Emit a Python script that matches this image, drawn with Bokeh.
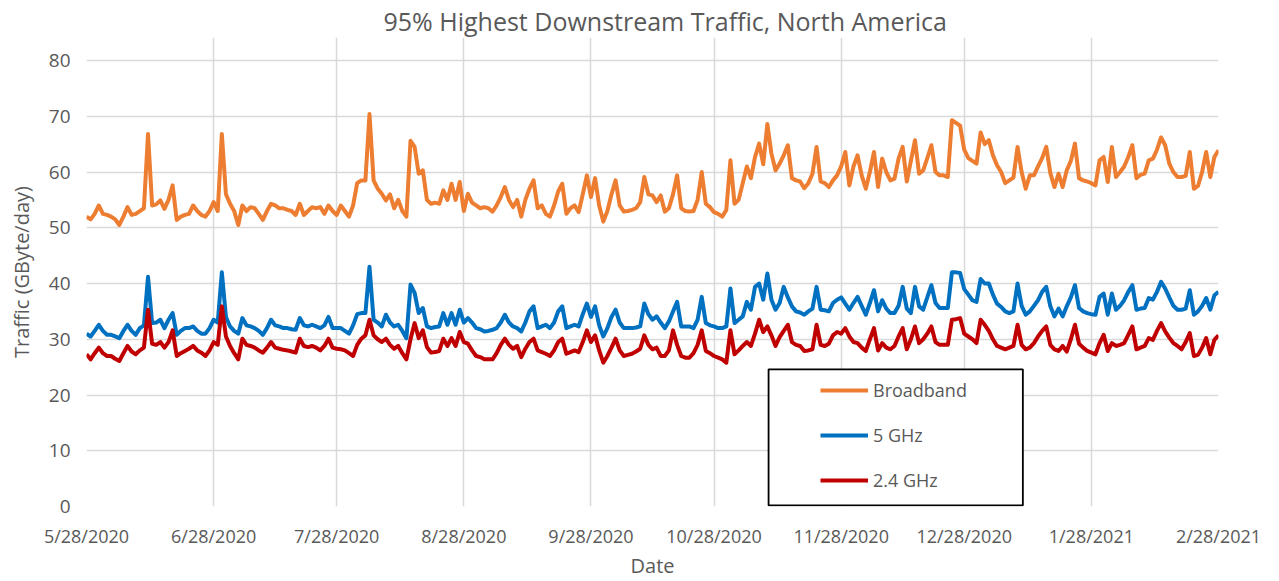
import pandas as pd
from bokeh.plotting import figure
from bokeh.models import Range1d, FixedTicker, Legend, LegendItem, BoxAnnotation
from bokeh.embed import file_html
from bokeh.resources import INLINE

# ---------------- data (GByte/day, daily from 5/28/2020) ----------------
title_text = "95% Highest Downstream Traffic, North America"
start_date = "5/28/2020"
tick_labels = ["5/28/2020", "6/28/2020", "7/28/2020", "8/28/2020", "9/28/2020",
               "10/28/2020", "11/28/2020", "12/28/2020", "1/28/2021", "2/28/2021"]
y_ticks = [0, 10, 20, 30, 40, 50, 60, 70, 80]

broadband = [
    52, 51.5, 52.5, 54, 52.5, 52.3, 52, 51.5, 50.5, 52,
    53.7, 52.3, 52.5, 53, 53.5, 66.8, 54, 54.2, 54.9, 53.4,
    55, 57.6, 51.4, 52, 52.3, 52.5, 54, 53, 52.3, 52,
    53, 54.6, 53, 66.8, 56, 54.3, 53, 50.5, 54, 53,
    53.7, 53.5, 52.5, 51.4, 53, 54.3,
    54, 53.5, 53.5, 53.2, 53, 52.3, 54.3, 52.3, 53, 53.7,
    53.5, 53.7, 52.5, 54, 53, 52.3, 54, 53, 52, 54,
    58, 58.5, 58.5, 70.4, 58.5, 57, 56.1, 54.9, 56, 53.5,
    55, 53, 52, 65.6, 64.5, 59.7, 60.3, 55, 54.3, 54.5,
    54.3, 56.7, 55, 57.9, 55, 58.2, 53,
    56.1, 54.5, 54, 53.5, 53.7, 53.5, 52.9, 54, 55.5, 57.3,
    55, 53.7, 55, 52, 55, 57, 58.5, 53.5, 54, 52.5,
    52, 54, 56.5, 57.9, 52.5, 53.5, 54, 52.8, 56, 59.4,
    55.5, 58.9, 54, 51.1, 53, 56, 58.5, 54, 52.9, 53,
    53.2, 53.5, 54.6, 59.1, 56,
    55.8, 54.6, 55.8, 52.9, 53.5, 56, 59.4, 53.5, 53, 52.9,
    53, 55, 60, 54.3, 53.7, 52.8, 52.5, 52, 53.2, 62.1,
    54.3, 55, 58, 61, 58.9, 62.7, 65.1, 61.4, 68.6, 63.3,
    60.3, 61.5, 63, 64.8, 58.9, 58.5, 58.3, 57.1, 58, 59.7,
    64.5, 58.3, 58, 57.3, 58.5, 59.4,
    61, 63.6, 57.6, 61, 63, 59.4, 57, 60, 63.6, 57.3,
    62.4, 60, 58.5, 58.8, 62.4, 64.5, 58.3, 62, 65.7, 59.7,
    60.3, 62.5, 64.8, 60, 59.4, 59.4, 59.1, 69.3, 68.8, 68.3,
    64, 62.5, 62, 61.5, 67.1, 65, 65.7, 63, 61.2, 60,
    58, 58.5, 59, 64.5, 60, 57, 59.4,
    59.4, 61, 62.5, 64.5, 59.8, 57.3, 59.7, 57.3, 60.3, 62,
    65.1, 58.9, 58.5, 58.3, 58, 57.6, 62.1, 62.7, 58.2, 64.5,
    59.1, 60, 61, 62.7, 64.8, 58.9, 59.5, 59.7, 62.1, 62.4,
    64, 66.2, 64.8, 61.5, 60, 59.1, 59.1, 59.3, 63.6, 57,
    57.5, 60, 63.6, 59.1, 62.7, 63.9,
]

ghz5 = [
    31, 30.5, 31.5, 32.6, 31.5, 30.8, 30.8, 30.5, 30.2, 31.5,
    32.6, 31.5, 30.8, 32, 32.5, 41.2, 32.9, 33, 33.5, 32,
    33.5, 34.7, 30.8, 31.5, 32, 32, 32.3, 31.5, 31, 31,
    32, 33.5, 33, 42, 34, 32.3, 31.5, 31, 33.8, 32.5,
    32.3, 32, 31.5, 30.8, 32, 33.5,
    32.5, 32.3, 32, 32, 31.8, 31.7, 33.8, 32.5, 32.3, 32.6,
    32.3, 32, 32.5, 34, 32, 32, 32, 31.5, 31, 32.5,
    34.5, 34.7, 34.7, 43, 33.5, 33, 32.3, 34.4, 33, 32.3,
    32.6, 31.5, 30.2, 39.8, 38.3, 34.7, 35.6, 32.3, 32, 32.2,
    32.3, 34.7, 32.6, 34.7, 32.6, 35.3, 33,
    33.8, 33, 32, 31.8, 31.4, 31.5, 31.7, 32, 33, 34.4,
    33, 32.3, 32, 31.4, 33, 35, 35.9, 32, 32.3, 32.6,
    32, 33, 35, 35.9, 32, 32.3, 32.6, 32.3, 34.5, 36.4,
    34, 35.9, 32.5, 30.5, 32, 34, 35.3, 33, 32, 32,
    32, 32.1, 32.3, 36.4, 34.5,
    33.5, 34.1, 33, 32, 33.2, 35, 36.7, 32.3, 32.3, 32.3,
    32, 33.5, 37.6, 32.9, 32.5, 32.3, 32, 32, 32.3, 39.1,
    32.9, 33.5, 34.1, 36.7, 35.3, 39.4, 40, 37.1, 41.8, 37.1,
    35.3, 36.5, 39.4, 37.5, 35.9, 35, 34.8, 34.4, 35, 35.5,
    39.4, 35.3, 35.2, 35, 36.5, 37.1,
    37.5, 36.4, 35.3, 36.5, 37.6, 36, 34.4, 36.5, 38.8, 35,
    37, 35.5, 34.7, 34.7, 36, 39.4, 35.5, 34.7, 39.4, 35.9,
    35.3, 37.5, 39.7, 36.5, 35.6, 35.6, 35.6, 42, 42, 41.9,
    39, 38, 37, 36.7, 40.8, 40, 40, 38, 36.4, 35.8,
    35, 34.7, 35, 40, 36, 34.4, 35,
    36, 37, 38.5, 39.4, 35.9, 34.1, 35.5, 34.1, 35.9, 37.5,
    39.7, 35.6, 35, 34.7, 34.5, 34.4, 37.6, 38.2, 34.4, 38.2,
    35.3, 36, 37, 38.5, 39.7, 35.3, 35.5, 35.6, 37.4, 37.1,
    38.5, 40.3, 39.1, 37.5, 36, 35.3, 35.3, 35.5, 38.8, 34.4,
    35, 36, 37.4, 35.3, 37.9, 38.5,
]

ghz24 = [
    27.3, 26.4, 27.5, 28.5, 27.5, 27, 27, 26.5, 26.1, 27.5,
    28.8, 27.8, 27.3, 28, 28.5, 35.3, 29.2, 29, 29.5, 28.5,
    29.5, 31.6, 27, 27.5, 27.9, 28.3, 28.8, 28, 27.6, 27,
    28, 29.5, 29, 35.9, 30.5, 28.8, 27.5, 26.4, 30.1, 29,
    28.8, 28.5, 28, 27.6, 28.5, 29.5,
    28.5, 28.3, 28.1, 28, 27.8, 27.6, 30.1, 28.8, 28.6, 28.8,
    28.5, 28, 28.8, 30.1, 28.5, 28.3, 28.2, 28, 27.5, 27,
    29, 30.1, 30.7, 33.5, 30.7, 30, 29.5, 30.1, 29, 28.3,
    28.8, 27.5, 26.4, 30, 32.9, 30.2, 31.6, 28.6, 27.6, 27.7,
    27.9, 30.1, 28.8, 30.2, 28.8, 31.3, 29.5,
    29.2, 28, 27, 26.8, 26.4, 26.4, 26.4, 27.5, 29, 30.1,
    29, 28.3, 28.8, 26.8, 28.3, 29.5, 30.1, 28, 27.7, 27.4,
    27, 28, 29.5, 30.1, 27.4, 27.7, 28, 27.7, 29.5, 31.6,
    29.5, 30.7, 28, 25.8, 27, 28.5, 30.1, 28, 27, 27.2,
    27.4, 27.8, 28.3, 30.7, 29,
    28.2, 28.5, 27, 27, 28, 31.6, 29, 27, 26.7, 26.7,
    27.5, 29, 31.6, 27.9, 27.5, 27, 26.7, 26.4, 25.8, 31.6,
    27.3, 28, 28.8, 29.5, 28.8, 31, 33.5, 31.3, 32.3, 30.7,
    28.8, 30.4, 31.5, 32.6, 29.5, 29, 28.8, 27.9, 28, 28.2,
    32.6, 29, 28.8, 29.2, 30.7, 31.3,
    31, 32, 30.5, 29.5, 29.3, 28.5, 27.9, 30, 32, 28,
    29.3, 28.5, 28.2, 28.8, 30.5, 32, 28.2, 30, 32.3, 29.3,
    30, 31, 32.3, 29.5, 29, 29, 29, 33.5, 33.6, 33.8,
    31, 30.5, 30, 29.3, 33.5, 32.6, 31.5, 30, 28.8, 28.5,
    28.2, 28.5, 28.8, 32.6, 29, 28.2, 28.5,
    29.3, 30.5, 31.5, 32.3, 29, 28.2, 27.9, 28.8, 27.8, 30,
    32.6, 29.2, 28.5, 27.9, 27.6, 27.3, 29.3, 30.8, 27.9, 29.3,
    28.8, 29, 29.3, 30.8, 32.3, 28.2, 28.5, 28.8, 30.2, 29.9,
    31.5, 32.9, 31.4, 30.3, 29.3, 28.8, 28.2, 29.5, 31.1, 27,
    27.2, 28.5, 30.2, 27.3, 29.9, 30.7,
]

# ---------------- styling ----------------
FONT = "Open Sans"
TEXT = "#595959"
GRID = "#d9d9d9"
C_BB, C_5, C_24 = "#ED7D31", "#0070C0", "#C00000"

start = pd.Timestamp(start_date)
tick_days = [(pd.Timestamp(t) - start).days for t in tick_labels]

def days(series):
    return list(range(len(series)))

# frame runs from y=37px to y=506px; the blank headroom above 80 keeps the
# 80 gridline where the reference has it while leaving the title room above
p = figure(width=1279, height=581, output_backend="svg", toolbar_location=None,
           x_range=Range1d(tick_days[0], tick_days[-1]), y_range=Range1d(y_ticks[0], 84.13),
           min_border_left=86, min_border_right=61, min_border_top=37, min_border_bottom=75)

p.title.text = title_text
p.title.align = "left"
p.title.offset = 297
p.title.vertical_align = "bottom"
p.title.standoff = 0
p.title.text_font = FONT
p.title.text_font_size = "25px"
p.title.text_font_style = "normal"
p.title.text_color = TEXT

p.outline_line_color = None
p.background_fill_color = "white"

p.xaxis.ticker = FixedTicker(ticks=tick_days)
p.xaxis.major_label_overrides = {d: lab for d, lab in zip(tick_days, tick_labels)}
p.yaxis.ticker = FixedTicker(ticks=y_ticks)
p.xgrid.ticker = FixedTicker(ticks=tick_days)
p.ygrid.ticker = FixedTicker(ticks=y_ticks)

for ax in (p.xaxis, p.yaxis):
    ax.axis_line_color = None
    ax.major_tick_line_color = None
    ax.minor_tick_line_color = None
    ax.major_label_text_font = FONT
    ax.major_label_text_color = TEXT
    ax.axis_label_text_font = FONT
    ax.axis_label_text_font_style = "normal"
    ax.axis_label_text_color = TEXT

p.xaxis.major_label_text_font_size = "18px"
p.yaxis.major_label_text_font_size = "19px"
p.xaxis.axis_label = "Date"
p.yaxis.axis_label = "Traffic (GByte/day)"
p.xaxis.axis_label_text_font_size = "20px"
p.yaxis.axis_label_text_font_size = "20px"
p.xaxis.major_label_standoff = 11
p.xaxis.axis_label_standoff = 1
p.yaxis.major_label_standoff = 10
p.yaxis.axis_label_standoff = 11

for g in (p.xgrid, p.ygrid):
    g.grid_line_color = GRID
    g.grid_line_width = 1.5

r_bb = p.line(days(broadband), broadband, line_color=C_BB, line_width=4, line_join="round")
r_5 = p.line(days(ghz5), ghz5, line_color=C_5, line_width=4, line_join="round")
r_24 = p.line(days(ghz24), ghz24, line_color=C_24, line_width=4, line_join="round")

box = BoxAnnotation(left=166.3, right=228.3, bottom=0.2, top=24.6,
                    fill_color="white", fill_alpha=1.0,
                    line_color="black", line_alpha=1.0, line_width=1.8)
p.add_layout(box)

legend = Legend(items=[LegendItem(label="Broadband", renderers=[r_bb]),
                       LegendItem(label="5 GHz", renderers=[r_5]),
                       LegendItem(label="2.4 GHz", renderers=[r_24])],
                location=(734, 13), padding=0, spacing=19, margin=0,
                glyph_width=48, glyph_height=26, label_height=26, label_standoff=5,
                border_line_color=None, background_fill_alpha=0,
                label_text_font=FONT, label_text_font_size="18px", label_text_color=TEXT)
p.add_layout(legend)

open("out.html", "w").write(file_html(p, INLINE))
